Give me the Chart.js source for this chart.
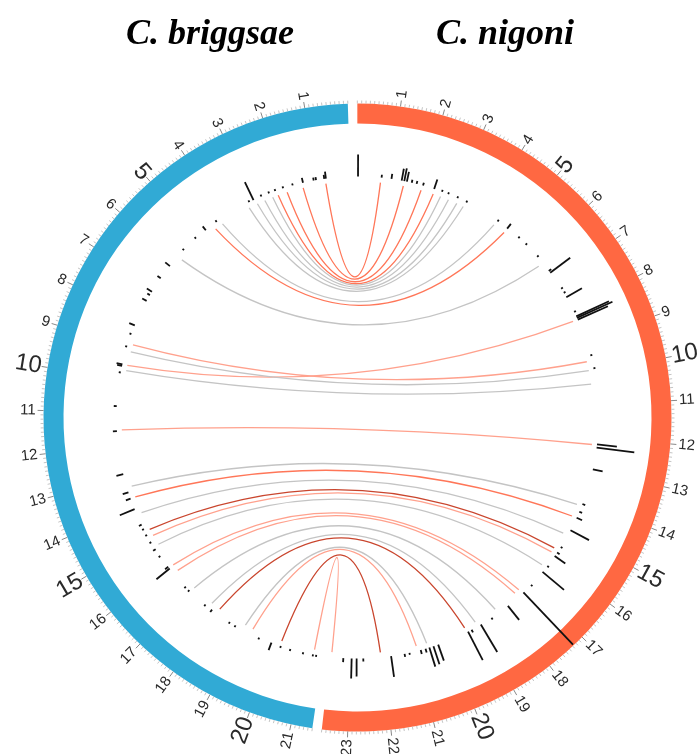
<!DOCTYPE html>
<html><head><meta charset="utf-8">
<script src="https://cdn.jsdelivr.net/npm/chart.js@4.4.1/dist/chart.umd.min.js"></script>
<style>html,body{margin:0;padding:0;background:#fff;}#wrap{width:697px;height:754px;}</style>
</head><body><div id="wrap"><canvas id="c" width="697" height="754"></canvas></div>
<script>
// ================= DATA =================
const speciesNames = ['C. briggsae', 'C. nigoni'];
const chromLengthBriggsae = 21.5;   // Mb
const chromLengthNigoni = 23.6;     // Mb
const gapMb = 0.22;                 // spacer between the two segments

const tickLabelsBriggsae = [1,2,3,4,5,6,7,8,9,10,11,12,13,14,15,16,17,18,19,20,21];
const tickLabelsNigoni = [1,2,3,4,5,6,7,8,9,10,11,12,13,14,15,16,17,18,19,20,21,22,23];
const bigTickLabels = [5,10,15,20];

// syntenic links: position on C. briggsae (Mb) <-> position on C. nigoni (Mb)
const linkBriggsae = [0.75,1.46,1.97,2.26,2.44,2.70,2.95,3.23,4.19,4.45,5.86,
  8.89,9.55,9.12,9.71,11.54,
  13.30,13.65,14.17,14.74,14.95,15.27,16.05,16.27,17.01,17.73,18.03,18.96,19.22,20.18,21.22];
const linkNigoni = [0.71,1.42,1.98,2.37,2.61,2.87,3.15,3.37,4.47,4.86,6.35,
  9.66,8.35,9.94,10.36,12.22,
  14.12,14.51,15.10,15.63,15.78,16.27,17.32,17.48,18.26,18.99,19.36,20.62,20.95,22.07,23.56];
const linkType = ['red','red','red','red','grey','grey','grey','grey','grey','red','grey',
  'light','light','grey','grey','light',
  'grey','red','grey','dark','light','grey','light','light','grey','grey','dark','grey','light','dark','light'];

// histogram track (bar heights in track units)
const barBriggsaePos = [0.73,0.78,1.03,1.10,1.43,1.75,2.05,2.30,2.50,2.75,3.01,3.15,4.30,4.71,5.10,5.60,6.24,6.70,7.18,7.30,7.50,8.32,8.60,9.00,9.55,9.60,9.80,10.82,11.57,12.88,13.45,13.65,13.99,14.50,14.65,14.85,15.10,15.35,15.60,16.00,16.07,16.80,16.95,17.60,17.85,18.50,18.70,19.50,19.90,20.20,20.50,20.90,21.20,21.30];
const barBriggsaeVal = [7,4,3,3,5,2,2,2,2,2,20,2,2,5,2,2,6,4,6,3,5,6,2,2,6,5,2,3,4,7,6,5,16,3,2,2,2,3,2,4,17,2,2,2,3,2,2,2,8,2,2,2,2,2];
const barNigoniPos = [0.02,0.73,1.03,1.34,1.42,1.50,1.65,1.80,2.00,2.35,2.60,2.80,3.10,3.40,4.50,4.86,5.30,5.60,6.10,6.65,6.72,7.30,7.45,7.60,8.10,8.25,8.30,8.36,9.50,9.90,12.20,12.30,12.96,14.05,14.30,14.50,14.92,15.50,15.70,15.83,16.20,16.43,16.95,17.27,17.89,18.50,18.88,19.20,19.32,20.30,20.45,20.58,20.70,20.85,21.20,21.35,21.76,22.60,22.80,22.95,23.20];
const barNigoniVal = [22,3,5,12,13,10,3,3,3,10,2,2,2,2,2,6,2,2,2,3,25,2,2,18,2,36,39,33,2,2,20,38,10,3,3,6,21,2,3,13,2,28,2,72,18,2,32,3,32,17,19,20,4,4,2,3,21,3,18,20,4];

// ================= STYLE =================
const COLORS = {briggsae:'#31aad5', nigoni:'#ff6842'};
const LINK_COLORS = {grey:'#c4c4c4', red:'#ff7658', light:'#ffa18d', dark:'#c9452d'};
const RING_R = 314, RING_INNER = 294, LINK_R = 236, BAR_R = 241;
const TOP_GAP_CENTER_DEG = -0.9;

const gapDeg = gapMb / (chromLengthBriggsae + chromLengthNigoni + 2*gapMb) * 360;

const circos = {
  id: 'circos',
  afterDatasetsDraw(chart) {
    const ctx = chart.ctx;
    const arcs = chart.getDatasetMeta(0).data;
    const nig = arcs[0], bri = arcs[2];
    const cx = nig.x, cy = nig.y, R = nig.outerRadius;
    const angN = p => nig.startAngle + (p / chromLengthNigoni) * (nig.endAngle - nig.startAngle);
    const angB = p => bri.endAngle - (p / chromLengthBriggsae) * (bri.endAngle - bri.startAngle);
    const pt = (r, a) => [cx + r * Math.cos(a), cy + r * Math.sin(a)];

    // links
    ctx.save();
    ctx.lineWidth = 1.3;
    for (let i = 0; i < linkBriggsae.length; i++) {
      const [x1, y1] = pt(LINK_R, angB(linkBriggsae[i]));
      const [x2, y2] = pt(LINK_R, angN(linkNigoni[i]));
      const mx = (x1 + x2) / 2, my = (y1 + y2) / 2;
      const qx = cx + 0.2 * (mx - cx), qy = cy + 0.2 * (my - cy);
      ctx.strokeStyle = LINK_COLORS[linkType[i]];
      ctx.beginPath(); ctx.moveTo(x1, y1); ctx.quadraticCurveTo(qx, qy, x2, y2); ctx.stroke();
    }
    ctx.restore();

    // bars
    ctx.save();
    ctx.strokeStyle = '#111'; ctx.lineWidth = 1.8; ctx.lineCap = 'butt';
    const drawBars = (pos, val, angFn) => {
      for (let i = 0; i < pos.length; i++) {
        const a = angFn(pos[i]);
        const [x1, y1] = pt(BAR_R, a), [x2, y2] = pt(BAR_R + val[i], a);
        ctx.beginPath(); ctx.moveTo(x1, y1); ctx.lineTo(x2, y2); ctx.stroke();
      }
    };
    drawBars(barBriggsaePos, barBriggsaeVal, angB);
    drawBars(barNigoniPos, barNigoniVal, angN);
    ctx.restore();

    // ticks
    ctx.save();
    const drawTicks = (len, angFn) => {
      const n = Math.floor(len * 10 + 1e-6);
      for (let k = 0; k <= n; k++) {
        const a = angFn(k / 10);
        const major = k % 10 === 0 && k > 0;
        const [x1, y1] = pt(R, a), [x2, y2] = pt(R + (major ? 6 : 3), a);
        ctx.strokeStyle = major ? '#888' : '#b5b5b5';
        ctx.lineWidth = major ? 1 : 0.8;
        ctx.beginPath(); ctx.moveTo(x1, y1); ctx.lineTo(x2, y2); ctx.stroke();
      }
    };
    drawTicks(chromLengthBriggsae, angB);
    drawTicks(chromLengthNigoni, angN);

    const drawLabels = (labels, angFn) => {
      ctx.fillStyle = '#2a2a2a';
      ctx.textBaseline = 'middle';
      labels.forEach(v => {
        const a = angFn(v);
        const big = bigTickLabels.includes(v);
        ctx.font = (big ? '24px' : '15px') + ' "Liberation Sans", Arial, sans-serif';
        ctx.save();
        ctx.translate(cx, cy);
        const rr = R + (big ? 6 : 8);
        if (Math.cos(a) >= 0) {
          ctx.rotate(a); ctx.textAlign = 'left'; ctx.fillText(String(v), rr, 0);
        } else {
          ctx.rotate(a + Math.PI); ctx.textAlign = 'right'; ctx.fillText(String(v), -rr, 0);
        }
        ctx.restore();
      });
    };
    drawLabels(tickLabelsBriggsae, angB);
    drawLabels(tickLabelsNigoni, angN);
    ctx.restore();

    // titles
    ctx.save();
    ctx.fillStyle = '#000';
    ctx.font = 'italic bold 36px "Liberation Serif", "Times New Roman", serif';
    ctx.textAlign = 'center'; ctx.textBaseline = 'alphabetic';
    ctx.fillText(speciesNames[0], 210, 44);
    ctx.fillText(speciesNames[1], 505, 44);
    ctx.restore();
  }
};

new Chart(document.getElementById('c'), {
  type: 'doughnut',
  data: {
    labels: [speciesNames[1], 'gap', speciesNames[0], 'gap'],
    datasets: [{
      data: [chromLengthNigoni, gapMb, chromLengthBriggsae, gapMb],
      backgroundColor: [COLORS.nigoni, 'rgba(0,0,0,0)', COLORS.briggsae, 'rgba(0,0,0,0)'],
      borderWidth: 0,
      hoverOffset: 0,
      offset: 0
    }]
  },
  options: {
    responsive: false,
    animation: false,
    events: [],
    radius: RING_R,
    cutout: (RING_INNER / RING_R * 100) + '%',
    rotation: TOP_GAP_CENTER_DEG + gapDeg / 2,
    layout: {padding: {left: 18, right: 0, top: 81, bottom: 0}},
    plugins: {legend: {display: false}, tooltip: {enabled: false}, title: {display: false}}
  },
  plugins: [circos]
});
</script>
</body></html>
